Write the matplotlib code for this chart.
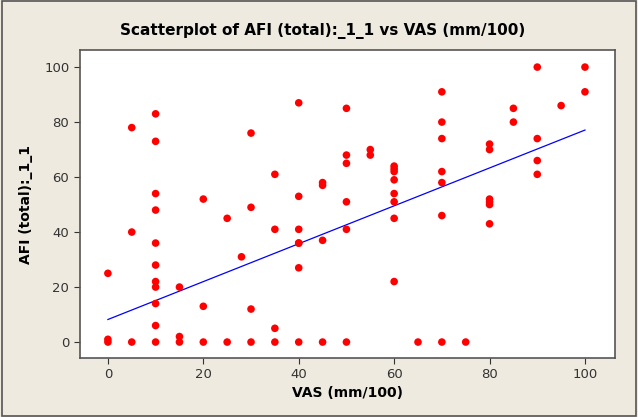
import numpy as np
from matplotlib import pyplot as plt
from matplotlib.patches import Rectangle

# VAS (mm/100) vs AFI (total) values
vas = [0, 0, 0,
       5, 5, 5,
       10, 10, 10, 10, 10, 10, 10, 10, 10, 10, 10,
       15, 15, 15,
       20, 20, 20,
       25, 25,
       28,
       30, 30, 30, 30,
       35, 35, 35, 35,
       40, 40, 40, 40, 40, 40, 40,
       45, 45, 45, 45,
       50, 50, 50, 50, 50, 50,
       55, 55,
       60, 60, 60, 60, 60, 60, 60, 60,
       65,
       70, 70, 70, 70, 70, 70, 70,
       75,
       80, 80, 80, 80, 80, 80,
       85, 85,
       90, 90, 90, 90,
       95,
       100, 100]
afi = [25, 1, 0,
       78, 40, 0,
       83, 73, 54, 48, 36, 28, 22, 20, 14, 6, 0,
       20, 2, 0,
       52, 13, 0,
       45, 0,
       31,
       76, 49, 12, 0,
       61, 41, 5, 0,
       87, 53, 41, 36, 36, 27, 0,
       58, 57, 37, 0,
       85, 68, 65, 51, 41, 0,
       70, 68,
       64, 63, 62, 59, 54, 51, 45, 22,
       0,
       91, 80, 74, 62, 58, 46, 0,
       0,
       72, 70, 52, 51, 50, 43,
       85, 80,
       100, 74, 66, 61,
       86,
       100, 91]

# fitted regression line as shown (full data set has overlapping points)
fit_intercept = 8.2
fit_slope = 0.689
fit_range = [0, 100]

x = np.array(vas, dtype=float)
y = np.array(afi, dtype=float)
xl = np.array(fit_range, dtype=float)

fig = plt.figure(figsize=(6.38, 4.17), dpi=100, facecolor="#eeeae0")
fig.patches.append(Rectangle((0.003, 0.003), 0.994, 0.994, transform=fig.transFigure,
                             fill=False, edgecolor="#555555", linewidth=1.2))
ax = fig.add_axes([0.125, 0.1415, 0.839, 0.7385])

ax.scatter(x, y, s=30, color="red", edgecolors="none", zorder=3)
ax.plot(xl, fit_intercept + fit_slope * xl, color="blue", linewidth=0.9, zorder=2)

ax.set_xlim(-5.9, 106.3)
ax.set_ylim(-5.8, 106.2)
ax.set_xticks(range(0, 101, 20))
ax.set_yticks(range(0, 101, 20))
ax.tick_params(direction="out", length=4, labelsize=9.5, colors="#333333")
for s in ax.spines.values():
    s.set_color("#555555")
    s.set_linewidth(1.2)

ax.set_xlabel("VAS (mm/100)", fontsize=10, fontweight="bold", labelpad=3)
ax.set_ylabel("AFI (total):_1_1", fontsize=10, fontweight="bold", labelpad=8)
fig.suptitle("Scatterplot of AFI (total):_1_1 vs VAS (mm/100)", x=0.505, y=0.945,
             fontsize=11, fontweight="bold")

fig.savefig("out.png", dpi=100, facecolor=fig.get_facecolor())
